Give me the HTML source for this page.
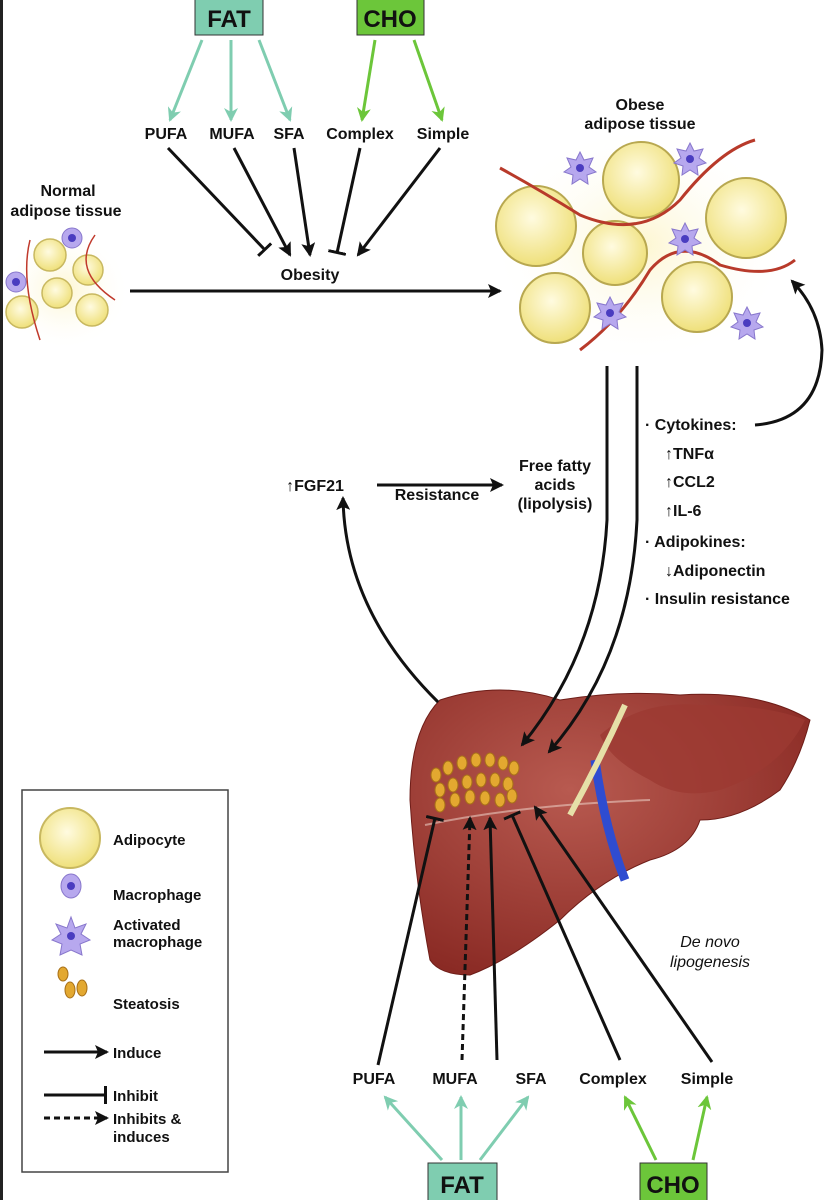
<!DOCTYPE html>
<html><head><meta charset="utf-8"><style>
body{margin:0;background:#fff;}
svg{display:block;font-family:"Liberation Sans",sans-serif;}
</style></head><body>
<svg width="827" height="1200" viewBox="0 0 827 1200">
<defs>
<marker id="ab" markerWidth="14" markerHeight="14" refX="12" refY="7" orient="auto" markerUnits="userSpaceOnUse"><path d="M0,0 L14,7 L0,14 L3,7z" fill="#111"/></marker>
<marker id="ag" markerWidth="14" markerHeight="14" refX="12" refY="7" orient="auto" markerUnits="userSpaceOnUse"><path d="M0,0 L14,7 L0,14 L4,7z" fill="#7fcdb0"/></marker>
<marker id="al" markerWidth="14" markerHeight="14" refX="12" refY="7" orient="auto" markerUnits="userSpaceOnUse"><path d="M0,0 L14,7 L0,14 L4,7z" fill="#6cc63a"/></marker>
<marker id="bar" markerWidth="4" markerHeight="18" refX="2" refY="9" orient="auto" markerUnits="userSpaceOnUse"><rect x="0" y="0" width="3" height="18" fill="#111"/></marker>
<radialGradient id="cell" cx="45%" cy="40%" r="60%"><stop offset="0" stop-color="#fffbe0"/><stop offset="1" stop-color="#efe07a"/></radialGradient>
<radialGradient id="liv" cx="40%" cy="35%" r="70%"><stop offset="0" stop-color="#b85a50"/><stop offset="1" stop-color="#8a2a24"/></radialGradient>
<radialGradient id="glow" cx="50%" cy="50%" r="50%"><stop offset="0" stop-color="#fdf6d0"/><stop offset="1" stop-color="#fff" stop-opacity="0"/></radialGradient>
</defs>
<rect x="0" y="0" width="3" height="1200" fill="#222"/>

<rect x="195" y="-2" width="68" height="37" fill="#7fcdb0" stroke="#333"/>
<text x="229" y="27" font-size="24" text-anchor="middle" font-weight="bold" fill="#111">FAT</text>
<rect x="357" y="-2" width="67" height="37" fill="#6cc63a" stroke="#333"/>
<text x="390" y="27" font-size="24" text-anchor="middle" font-weight="bold" fill="#111">CHO</text>
<g stroke="#7fcdb0" stroke-width="3" fill="none">
<line x1="202" y1="40" x2="170" y2="120" marker-end="url(#ag)"/>
<line x1="231" y1="40" x2="231" y2="120" marker-end="url(#ag)"/>
<line x1="259" y1="40" x2="290" y2="120" marker-end="url(#ag)"/>
</g>
<g stroke="#6cc63a" stroke-width="3" fill="none">
<line x1="375" y1="40" x2="362" y2="120" marker-end="url(#al)"/>
<line x1="414" y1="40" x2="442" y2="120" marker-end="url(#al)"/>
</g>
<g font-size="16" font-weight="bold" fill="#111" text-anchor="middle">
<text x="166" y="139">PUFA</text><text x="232" y="139">MUFA</text><text x="289" y="139">SFA</text><text x="360" y="139">Complex</text><text x="443" y="139">Simple</text>
<text x="310" y="280">Obesity</text>
</g>
<g stroke="#111" stroke-width="3" fill="none">
<line x1="168" y1="148" x2="265" y2="250" marker-end="url(#bar)"/>
<line x1="234" y1="148" x2="290" y2="255" marker-end="url(#ab)"/>
<line x1="294" y1="148" x2="310" y2="255" marker-end="url(#ab)"/>
<line x1="360" y1="148" x2="337" y2="253" marker-end="url(#bar)"/>
<line x1="440" y1="148" x2="358" y2="255" marker-end="url(#ab)"/>
<line x1="130" y1="291" x2="500" y2="291" marker-end="url(#ab)"/>
</g>

<g font-size="16" font-weight="bold" fill="#111" text-anchor="middle">
<text x="68" y="196">Normal</text><text x="66" y="216">adipose tissue</text>
<text x="640" y="110">Obese</text><text x="640" y="129">adipose tissue</text>
</g>
<ellipse cx="65" cy="290" rx="65" ry="60" fill="url(#glow)"/>
<g fill="url(#cell)" stroke="#c8b860" stroke-width="1.5">
<circle cx="50" cy="255" r="16"/><circle cx="88" cy="270" r="15"/><circle cx="57" cy="293" r="15"/><circle cx="22" cy="312" r="16"/><circle cx="92" cy="310" r="16"/>
</g>
<g stroke="#c0392b" stroke-width="1.5" fill="none"><path d="M30,240 Q20,280 40,340"/><path d="M95,235 Q70,270 115,300"/></g>
<g fill="#b7a8ee" stroke="#8877cc"><circle cx="72" cy="238" r="10"/><circle cx="16" cy="282" r="10"/></g>
<g fill="#4a3cc0"><circle cx="72" cy="238" r="4"/><circle cx="16" cy="282" r="4"/></g>

<ellipse cx="640" cy="245" rx="150" ry="120" fill="url(#glow)"/>
<g fill="url(#cell)" stroke="#b8a850" stroke-width="2">
<circle cx="536" cy="226" r="40"/><circle cx="641" cy="180" r="38"/><circle cx="746" cy="218" r="40"/><circle cx="615" cy="253" r="32"/><circle cx="555" cy="308" r="35"/><circle cx="697" cy="297" r="35"/>
</g>
<g stroke="#b83a2a" stroke-width="3" fill="none">
<path d="M500,168 Q540,190 580,215 Q640,240 680,200 Q720,150 755,140"/>
<path d="M580,350 Q620,320 650,270 Q680,235 720,265 Q770,280 795,260"/>
</g>
<g fill="#b7a8ee" stroke="#8877cc">
<polygon points="580,152 584,160 593,158 589,167 596,172 587,175 588,184 580,179 572,184 573,175 564,172 571,167 567,158 576,160"/>
<polygon points="690,143 694,151 703,149 699,158 706,163 697,166 698,175 690,170 682,175 683,166 674,163 681,158 677,149 686,151"/>
<polygon points="685,223 689,231 698,229 694,238 701,243 692,246 693,255 685,250 677,255 678,246 669,243 676,238 672,229 681,231"/>
<polygon points="610,297 614,305 623,303 619,312 626,317 617,320 618,329 610,324 602,329 603,320 594,317 601,312 597,303 606,305"/>
<polygon points="747,307 751,315 760,313 756,322 763,327 754,330 755,339 747,334 739,339 740,330 731,327 738,322 734,313 743,315"/>
</g>
<g fill="#4a3cc0"><circle cx="580" cy="168" r="4"/><circle cx="690" cy="159" r="4"/><circle cx="685" cy="239" r="4"/><circle cx="610" cy="313" r="4"/><circle cx="747" cy="323" r="4"/></g>

<!-- liver -->
<path d="M440,700 Q500,680 560,700 Q620,690 680,695 Q760,690 810,720 Q800,760 780,790 Q740,820 700,820 Q690,850 650,860 Q600,880 560,920 Q510,960 470,975 Q440,975 430,960 Q415,880 410,800 Q410,730 440,700z" fill="url(#liv)" stroke="#6e1d18"/>
<path d="M600,735 Q640,700 700,705 Q770,705 805,720 Q780,770 720,790 Q680,800 650,780 Q610,760 600,735z" fill="#9c3a32" opacity=".8"/>
<path d="M425,825 Q520,805 650,800" stroke="#e9c9c0" stroke-width="2" fill="none" opacity=".6"/>
<path d="M595,760 Q605,830 625,880" stroke="#2f4cd0" stroke-width="9" fill="none"/>
<path d="M625,705 Q600,760 570,815" stroke="#e6e0a8" stroke-width="6" fill="none"/>
<g fill="#e3a830" stroke="#a87018" stroke-width="1">
<ellipse cx="436" cy="775" rx="5" ry="7"/><ellipse cx="448" cy="768" rx="5" ry="7"/><ellipse cx="462" cy="763" rx="5" ry="7"/><ellipse cx="476" cy="760" rx="5" ry="7"/><ellipse cx="490" cy="760" rx="5" ry="7"/><ellipse cx="503" cy="763" rx="5" ry="7"/><ellipse cx="514" cy="768" rx="5" ry="7"/>
<ellipse cx="440" cy="790" rx="5" ry="7"/><ellipse cx="453" cy="785" rx="5" ry="7"/><ellipse cx="467" cy="782" rx="5" ry="7"/><ellipse cx="481" cy="780" rx="5" ry="7"/><ellipse cx="495" cy="780" rx="5" ry="7"/><ellipse cx="508" cy="784" rx="5" ry="7"/>
<ellipse cx="440" cy="805" rx="5" ry="7"/><ellipse cx="455" cy="800" rx="5" ry="7"/><ellipse cx="470" cy="797" rx="5" ry="7"/><ellipse cx="485" cy="798" rx="5" ry="7"/><ellipse cx="500" cy="800" rx="5" ry="7"/><ellipse cx="512" cy="796" rx="5" ry="7"/>
</g>

<g font-size="16" font-weight="bold" fill="#111" text-anchor="middle">
<text x="315" y="491">↑FGF21</text>
<text x="437" y="500">Resistance</text>
<text x="555" y="471">Free fatty</text><text x="555" y="490">acids</text><text x="555" y="509">(lipolysis)</text>
</g>
<g stroke="#111" stroke-width="3" fill="none">
<line x1="377" y1="485" x2="502" y2="485" marker-end="url(#ab)"/>
<path d="M438,702 Q345,610 343,498" marker-end="url(#ab)"/>
<path d="M607,366 L607,520 Q600,650 522,745" marker-end="url(#ab)"/>
<path d="M637,366 L637,520 Q630,660 549,752" marker-end="url(#ab)"/>
<path d="M755,425 Q820,420 822,350 Q820,310 792,281" marker-end="url(#ab)"/>
</g>
<g font-size="16" font-weight="bold" fill="#111">
<text x="645" y="430">· Cytokines:</text>
<text x="665" y="459">↑TNFα</text>
<text x="665" y="487">↑CCL2</text>
<text x="665" y="516">↑IL-6</text>
<text x="645" y="547">· Adipokines:</text>
<text x="665" y="576">↓Adiponectin</text>
<text x="645" y="604">· Insulin resistance</text>
</g>

<g stroke="#111" stroke-width="3" fill="none">
<line x1="378" y1="1065" x2="435" y2="818" marker-end="url(#bar)"/>
<line x1="462" y1="1060" x2="470" y2="818" stroke-dasharray="6,4" marker-end="url(#ab)"/>
<line x1="497" y1="1060" x2="490" y2="818" marker-end="url(#ab)"/>
<line x1="620" y1="1060" x2="512" y2="815" marker-end="url(#bar)"/>
<line x1="712" y1="1062" x2="535" y2="807" marker-end="url(#ab)"/>
</g>
<g font-size="16" fill="#111" text-anchor="middle" font-style="italic">
<text x="710" y="947">De novo</text><text x="710" y="967">lipogenesis</text>
</g>
<g font-size="16" font-weight="bold" fill="#111" text-anchor="middle">
<text x="374" y="1084">PUFA</text><text x="455" y="1084">MUFA</text><text x="531" y="1084">SFA</text><text x="613" y="1084">Complex</text><text x="707" y="1084">Simple</text>
</g>
<g stroke="#7fcdb0" stroke-width="3" fill="none">
<line x1="442" y1="1160" x2="385" y2="1097" marker-end="url(#ag)"/>
<line x1="461" y1="1160" x2="461" y2="1097" marker-end="url(#ag)"/>
<line x1="480" y1="1160" x2="528" y2="1097" marker-end="url(#ag)"/>
</g>
<g stroke="#6cc63a" stroke-width="3" fill="none">
<line x1="656" y1="1160" x2="625" y2="1097" marker-end="url(#al)"/>
<line x1="693" y1="1160" x2="707" y2="1097" marker-end="url(#al)"/>
</g>
<rect x="428" y="1163" width="69" height="40" fill="#7fcdb0" stroke="#333"/>
<text x="462" y="1193" font-size="24" text-anchor="middle" font-weight="bold" fill="#111">FAT</text>
<rect x="640" y="1163" width="67" height="40" fill="#6cc63a" stroke="#333"/>
<text x="673" y="1193" font-size="24" text-anchor="middle" font-weight="bold" fill="#111">CHO</text>

<rect x="22" y="790" width="206" height="382" fill="#fff" stroke="#444" stroke-width="1.5"/>
<circle cx="70" cy="838" r="30" fill="url(#cell)" stroke="#c8b860" stroke-width="2"/>
<ellipse cx="71" cy="886" rx="10" ry="12" fill="#b7a8ee" stroke="#8877cc"/><circle cx="71" cy="886" r="4" fill="#4a3cc0"/>
<polygon points="71,917 75,928 86,924 81,934 90,940 80,944 82,955 71,950 60,955 62,944 52,940 61,934 56,924 67,928" fill="#b7a8ee" stroke="#8877cc"/><circle cx="71" cy="936" r="4" fill="#4a3cc0"/>
<g fill="#e3a830" stroke="#a87018"><ellipse cx="63" cy="974" rx="5" ry="7"/><ellipse cx="70" cy="990" rx="5" ry="8"/><ellipse cx="82" cy="988" rx="5" ry="8"/></g>
<g stroke="#111" stroke-width="3" fill="none">
<line x1="44" y1="1052" x2="107" y2="1052" marker-end="url(#ab)"/>
<line x1="44" y1="1095" x2="106" y2="1095" marker-end="url(#bar)"/>
<line x1="44" y1="1118" x2="107" y2="1118" stroke-dasharray="6,4" marker-end="url(#ab)"/>
</g>
<g font-size="15" font-weight="bold" fill="#111">
<text x="113" y="845">Adipocyte</text>
<text x="113" y="900">Macrophage</text>
<text x="113" y="930">Activated</text><text x="113" y="947">macrophage</text>
<text x="113" y="1009">Steatosis</text>
<text x="113" y="1058">Induce</text>
<text x="113" y="1101">Inhibit</text>
<text x="113" y="1124">Inhibits &amp;</text><text x="113" y="1142">induces</text>
</g>
</svg>
</body></html>
